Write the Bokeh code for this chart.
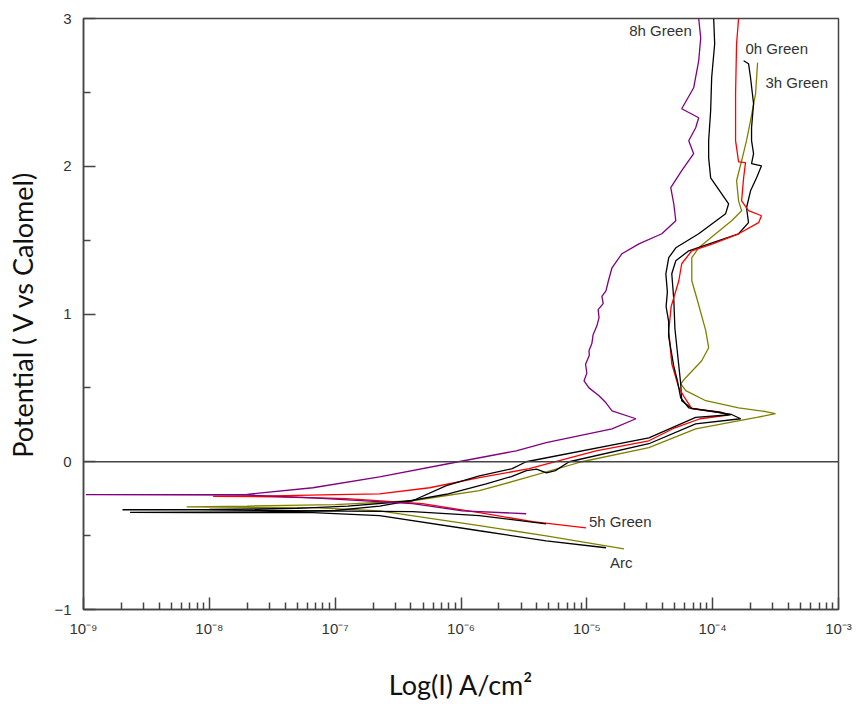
from bokeh.plotting import figure
from bokeh.models import Range1d, FixedTicker, Span, ColumnDataSource
from bokeh.core.properties import value
from bokeh.embed import file_html
from bokeh.resources import INLINE

# Potential (V vs Calomel) and log10 of current density (A/cm2)
purple_E = [-0.352, -0.332, -0.284, -0.244, -0.225, -0.223, -0.221, -0.176, -0.102, 0.0, 0.074, 0.129,
            0.223, 0.291, 0.345, 0.399, 0.447, 0.50, 0.548, 0.60, 0.66, 0.72, 0.751, 0.80, 0.86, 0.92,
            0.975, 1.03, 1.07, 1.12, 1.157, 1.22, 1.313, 1.408, 1.475, 1.543, 1.631, 1.746, 1.855,
            1.970, 2.085, 2.173, 2.261, 2.328, 2.389, 2.531, 2.714, 2.870, 3.0]
purple_logI = [-5.482, -5.989, -6.385, -7.177, -7.70, -8.98, -7.70, -7.177, -6.647, -6.02, -5.561, -5.323,
               -4.80, -4.61, -4.80, -4.848, -4.903, -4.983, -5.022, -5.00, -5.01, -4.98, -4.983, -4.96, -4.95, -4.92,
               -4.903, -4.91, -4.87, -4.88, -4.848, -4.83, -4.80, -4.721, -4.586, -4.404, -4.293, -4.309, -4.333,
               -4.246, -4.151, -4.19, -4.135, -4.111, -4.246, -4.151, -4.111, -4.095, -4.111]

red_E = [-0.447, -0.405, -0.345, -0.284, -0.250, -0.237, -0.235, -0.232, -0.222, -0.217, -0.176, -0.108,
         -0.047, 0.074, 0.142, 0.230, 0.291, 0.315, 0.335, 0.359, 0.430, 0.50, 0.663, 0.887, 1.05, 1.225,
         1.34, 1.428, 1.475, 1.543, 1.618, 1.665, 1.699, 1.766, 1.922, 2.024, 2.030, 2.173, 2.491, 2.829, 3.0]
red_logI = [-5.006, -5.43, -5.854, -6.306, -6.908, -7.5, -7.97, -7.6, -7.0, -6.647, -6.25, -5.854,
            -5.458, -4.927, -4.507, -4.30, -4.10, -3.875, -3.93, -4.166, -4.22, -4.269, -4.325, -4.349, -4.33, -4.269,
            -4.246, -4.166, -4.00, -3.794, -3.635, -3.612, -3.715, -3.77, -3.754, -3.739, -3.794, -3.818, -3.818, -3.81, -3.794]

blackA_E = [-0.42, -0.365, -0.338, -0.332, -0.325, -0.325, -0.322, -0.315, -0.30, -0.264, -0.162, -0.095,
            -0.047, 0.0, 0.162, 0.30, 0.318, 0.335, 0.365, 0.433, 0.548, 0.65, 0.75, 0.85, 0.95, 1.05, 1.15,
            1.272, 1.381, 1.448, 1.543, 1.679, 1.746, 1.922, 2.058, 2.173, 2.376, 2.599, 2.829, 3.0]
blackA_logI = [-5.323, -5.854, -6.385, -7.177, -8.07, -8.69, -8.0, -7.3, -6.9, -6.385, -6.116, -5.854,
               -5.593, -5.482, -4.507, -4.135, -3.857, -3.95, -4.19, -4.254, -4.28, -4.31, -4.33, -4.35, -4.35, -4.37, -4.36,
               -4.372, -4.349, -4.293, -4.111, -3.897, -3.873, -4.016, -4.032, -4.032, -4.016, -4.008, -3.984, -3.992]

blackB_E = [-0.582, -0.535, -0.467, -0.365, -0.345, -0.345, -0.343, -0.34, -0.33, -0.30, -0.22, -0.15,
            -0.10, -0.06, -0.05, -0.075, -0.06, 0.0, 0.122, 0.257, 0.291, 0.32, 0.36, 0.413, 0.528, 0.65,
            0.90, 1.10, 1.272, 1.36, 1.428, 1.496, 1.543, 1.618, 1.719, 1.834, 1.922, 2.003, 2.017, 2.085,
            2.173, 2.261, 2.423, 2.599, 2.694, 2.714]
blackB_logI = [-4.848, -5.323, -5.854, -6.647, -7.177, -8.07, -8.63, -7.6, -7.0, -6.647, -6.116, -5.80,
               -5.60, -5.48, -5.40, -5.32, -5.25, -5.14, -4.507, -4.135, -3.778, -3.85, -4.166, -4.246, -4.254, -4.269,
               -4.30, -4.309, -4.325, -4.293, -4.19, -3.952, -3.794, -3.715, -3.731, -3.699, -3.651, -3.612, -3.691, -3.675,
               -3.691, -3.691, -3.675, -3.699, -3.715, -3.754]

olive_E = [-0.589, -0.501, -0.433, -0.332, -0.311, -0.305, -0.30, -0.29, -0.264, -0.196, -0.108, 0.0,
           0.095, 0.223, 0.30, 0.325, 0.34, 0.365, 0.413, 0.481, 0.528, 0.569, 0.684, 0.772, 0.887, 1.11,
           1.225, 1.381, 1.448, 1.543, 1.631, 1.699, 1.766, 1.902, 2.037, 2.173, 2.308, 2.491, 2.70]
olive_logI = [-4.705, -5.323, -5.854, -6.647, -7.177, -8.18, -7.7, -7.0, -6.385, -5.854, -5.482, -5.04,
              -4.507, -4.135, -3.65, -3.501, -3.58, -3.794, -4.055, -4.214, -4.254, -4.214, -4.087, -4.032, -4.055, -4.127,
              -4.166, -4.166, -4.111, -3.976, -3.849, -3.77, -3.794, -3.81, -3.77, -3.731, -3.699, -3.659, -3.643]

label_texts = ["8h Green", "0h Green", "3h Green", "5h Green", "Arc"]
label_logI = [-4.166, -3.739, -3.58, -4.983, -4.816]
label_E = [2.917, 2.795, 2.565, -0.406, -0.684]
label_align = ["right", "left", "left", "left", "left"]

x_tick_exp = [-9, -8, -7, -6, -5, -4, -3]
x_tick_labels = ["10\u207b\u2079", "10\u207b\u2078", "10\u207b\u2077", "10\u207b\u2076",
                 "10\u207b\u2075", "10\u207b\u2074", "10\u207b\u00b3"]
y_ticks = [-1, 0, 1, 2, 3]
x_title = "Log(I) A/cm\u00b2"
y_title = "Potential ( V vs Calomel)"

series = [
    (olive_E, olive_logI, "#808000"),
    (blackB_E, blackB_logI, "#000000"),
    (red_E, red_logI, "#ff0000"),
    (blackA_E, blackA_logI, "#000000"),
    (purple_E, purple_logI, "#800080"),
]

AX = "#444444"
p = figure(width=856, height=704, x_axis_type="log", output_backend="svg", toolbar_location=None,
           x_range=Range1d(1e-9, 1e-3), y_range=Range1d(-1, 3),
           min_border_left=83, min_border_right=18, min_border_top=18, min_border_bottom=95)
p.background_fill_color = "white"
p.border_fill_color = "white"
p.grid.visible = False
p.outline_line_color = AX
p.outline_line_width = 1.5

for E, logI, col in series:
    src = ColumnDataSource(dict(x=[10 ** v for v in logI], y=E))
    p.line("x", "y", source=src, line_color=col, line_width=1.3)

p.add_layout(Span(location=0, dimension="width", line_color=AX, line_width=1.5))

lsrc = ColumnDataSource(dict(x=[10 ** v for v in label_logI], y=label_E, t=label_texts, a=label_align))
p.text("x", "y", text="t", source=lsrc, text_align="a", text_baseline="middle",
       text_font=value("Liberation Sans"), text_font_size="15px", text_color="#333333")

xt = [10.0 ** e for e in x_tick_exp]
minor = [m * 10.0 ** e for e in x_tick_exp[:-1] for m in range(2, 10)]
p.xaxis.ticker = FixedTicker(ticks=xt, minor_ticks=minor)
p.xaxis.major_label_overrides = {t: l for t, l in zip(xt, x_tick_labels)}
p.yaxis.ticker = FixedTicker(ticks=y_ticks, minor_ticks=[-0.5, 0.5, 1.5, 2.5])

for ax in (p.xaxis[0], p.yaxis[0]):
    ax.axis_line_color = AX
    ax.axis_line_width = 1.5
    ax.major_tick_line_color = AX
    ax.minor_tick_line_color = AX
    ax.major_tick_line_width = 1.5
    ax.minor_tick_line_width = 1.5
    ax.major_tick_in = 12
    ax.major_tick_out = 0
    ax.minor_tick_in = 7
    ax.minor_tick_out = 0
    ax.major_label_text_font = "Liberation Sans"
    ax.major_label_text_font_size = "15px"
    ax.major_label_text_color = "#333333"
    ax.axis_label_text_font = "Lato"
    ax.axis_label_text_font_size = "27px"
    ax.axis_label_text_font_style = "normal"
    ax.axis_label_text_color = "#111111"

p.xaxis.axis_label = x_title
p.yaxis.axis_label = y_title
p.xaxis.major_label_standoff = 10
p.yaxis.major_label_standoff = 12
p.xaxis.axis_label_standoff = 28
p.yaxis.axis_label_standoff = 12

open("out.html", "w").write(file_html(p, INLINE))
